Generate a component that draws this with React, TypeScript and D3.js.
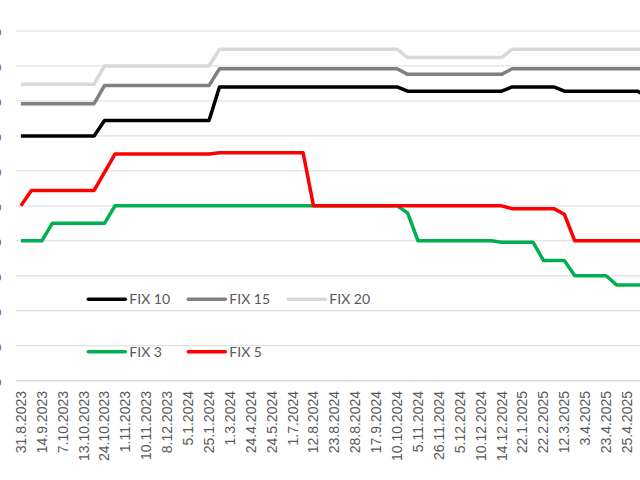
import React from "react";
import * as d3 from "d3";

const dates: string[] = [
  "31.8.2023", "", "14.9.2023", "", "7.10.2023", "", "13.10.2023", "", "24.10.2023", "",
  "1.11.2023", "", "10.11.2023", "", "8.12.2023", "", "5.1.2024", "", "25.1.2024", "",
  "1.3.2024", "", "24.4.2024", "", "24.5.2024", "", "1.7.2024", "", "12.8.2024", "",
  "23.8.2024", "", "28.8.2024", "", "17.9.2024", "", "10.10.2024", "", "5.11.2024", "",
  "26.11.2024", "", "5.12.2024", "", "10.12.2024", "", "14.12.2024", "", "22.1.2025", "",
  "22.2.2025", "", "12.3.2025", "", "3.4.2025", "", "23.4.2025", "", "25.4.2025", "", "",
];

const fix3: number[] = [
  3.5, 3.5, 3.5, 3.625, 3.625, 3.625, 3.625, 3.625, 3.625, 3.75,
  3.75, 3.75, 3.75, 3.75, 3.75, 3.75, 3.75, 3.75, 3.75, 3.75,
  3.75, 3.75, 3.75, 3.75, 3.75, 3.75, 3.75, 3.75, 3.75, 3.75,
  3.75, 3.75, 3.75, 3.75, 3.75, 3.75, 3.75, 3.7, 3.5, 3.5,
  3.5, 3.5, 3.5, 3.5, 3.5, 3.5, 3.49, 3.49, 3.49, 3.49,
  3.36, 3.36, 3.36, 3.25, 3.25, 3.25, 3.25, 3.185, 3.185, 3.185, 3.185,
];

const fix5: number[] = [
  3.75, 3.86, 3.86, 3.86, 3.86, 3.86, 3.86, 3.86, 3.99, 4.12,
  4.12, 4.12, 4.12, 4.12, 4.12, 4.12, 4.12, 4.12, 4.12, 4.13,
  4.13, 4.13, 4.13, 4.13, 4.13, 4.13, 4.13, 4.13, 3.75, 3.75,
  3.75, 3.75, 3.75, 3.75, 3.75, 3.75, 3.75, 3.75, 3.75, 3.75,
  3.75, 3.75, 3.75, 3.75, 3.75, 3.75, 3.75, 3.73, 3.73, 3.73,
  3.73, 3.73, 3.69, 3.5, 3.5, 3.5, 3.5, 3.5, 3.5, 3.5, 3.5,
];

const fix10: number[] = [
  4.25, 4.25, 4.25, 4.25, 4.25, 4.25, 4.25, 4.25, 4.36, 4.36,
  4.36, 4.36, 4.36, 4.36, 4.36, 4.36, 4.36, 4.36, 4.36, 4.6,
  4.6, 4.6, 4.6, 4.6, 4.6, 4.6, 4.6, 4.6, 4.6, 4.6,
  4.6, 4.6, 4.6, 4.6, 4.6, 4.6, 4.6, 4.57, 4.57, 4.57,
  4.57, 4.57, 4.57, 4.57, 4.57, 4.57, 4.57, 4.6, 4.6, 4.6,
  4.6, 4.6, 4.57, 4.57, 4.57, 4.57, 4.57, 4.57, 4.57, 4.57, 4.53,
];

const fix15: number[] = [
  4.48, 4.48, 4.48, 4.48, 4.48, 4.48, 4.48, 4.48, 4.61, 4.61,
  4.61, 4.61, 4.61, 4.61, 4.61, 4.61, 4.61, 4.61, 4.61, 4.73,
  4.73, 4.73, 4.73, 4.73, 4.73, 4.73, 4.73, 4.73, 4.73, 4.73,
  4.73, 4.73, 4.73, 4.73, 4.73, 4.73, 4.73, 4.69, 4.69, 4.69,
  4.69, 4.69, 4.69, 4.69, 4.69, 4.69, 4.69, 4.73, 4.73, 4.73,
  4.73, 4.73, 4.73, 4.73, 4.73, 4.73, 4.73, 4.73, 4.73, 4.73, 4.73,
];

const fix20: number[] = [
  4.62, 4.62, 4.62, 4.62, 4.62, 4.62, 4.62, 4.62, 4.75, 4.75,
  4.75, 4.75, 4.75, 4.75, 4.75, 4.75, 4.75, 4.75, 4.75, 4.87,
  4.87, 4.87, 4.87, 4.87, 4.87, 4.87, 4.87, 4.87, 4.87, 4.87,
  4.87, 4.87, 4.87, 4.87, 4.87, 4.87, 4.87, 4.81, 4.81, 4.81,
  4.81, 4.81, 4.81, 4.81, 4.81, 4.81, 4.81, 4.87, 4.87, 4.87,
  4.87, 4.87, 4.87, 4.87, 4.87, 4.87, 4.87, 4.87, 4.87, 4.87, 4.87,
];

const yTicks: number[] = [2.5, 2.75, 3.0, 3.25, 3.5, 3.75, 4.0, 4.25, 4.5, 4.75, 5.0];

const seriesNames: string[] = ["FIX 20", "FIX 15", "FIX 10", "FIX 3", "FIX 5"];
const seriesColors: string[] = ["#d9d9d9", "#808080", "#000000", "#00b050", "#ff0000"];
const seriesValues: number[][] = [fix20, fix15, fix10, fix3, fix5];

// legend layout: rows of series names
const legendRows: string[][] = [["FIX 10", "FIX 15", "FIX 20"], ["FIX 3", "FIX 5"]];

export default function App() {
  const W = 640;
  const H = 480;
  const plotLeft = 15.7;
  const step = 10.45;
  const plotTop = 31;
  const plotBottom = 380.7;

  const idx = dates.map((_, i) => i);
  const x = d3
    .scaleBand<number>()
    .domain(idx)
    .range([plotLeft, plotLeft + step * dates.length]);
  const xc = (i: number) => (x(i) as number) + x.bandwidth() / 2;
  const y = d3.scaleLinear().domain([2.5, 5.0]).range([plotBottom, plotTop]);

  const line = d3
    .line<number>()
    .x((_, i) => xc(i))
    .y((d) => y(d));

  const fmt = (v: number) => d3.format(".2f")(v).replace(".", ",") + "%";

  const legendX = [88.3, 188.3, 288.3];
  const legendY = [299.3, 351.7];

  return (
    <svg
      width={W}
      height={H}
      style={{ position: "absolute", left: 0, top: 0, background: "#fff" }}
    >
      <rect x={0} y={0} width={W} height={H} fill="#ffffff" />
      {yTicks.map((t) => (
        <line
          key={"g" + t}
          x1={plotLeft}
          x2={W + 20}
          y1={y(t)}
          y2={y(t)}
          stroke="#d9d9d9"
          strokeWidth={t === 2.5 ? 1.5 : 1}
        />
      ))}
      {yTicks.map((t) => (
        <text
          key={"yl" + t}
          x={1.5}
          y={y(t)}
          dy="0.35em"
          textAnchor="end"
          fontFamily="Liberation Sans, Arial, sans-serif"
          fontSize={14}
          fill="#595959"
        >
          {fmt(t)}
        </text>
      ))}
      {dates.map((d, i) =>
        d ? (
          <text
            key={"xl" + i}
            transform={`translate(${xc(i)},391) rotate(-90)`}
            dy="0.35em"
            textAnchor="end"
            fontFamily="Liberation Sans, Arial, sans-serif"
            fontSize={14}
            fill="#595959"
          >
            {d}
          </text>
        ) : null
      )}
      {seriesValues.map((vals, si) => (
        <path
          key={seriesNames[si]}
          d={line(vals) as string}
          fill="none"
          stroke={seriesColors[si]}
          strokeWidth={3.5}
          strokeLinejoin="round"
          strokeLinecap="butt"
        />
      ))}
      {legendRows.map((row, ri) =>
        row.map((name, ci) => {
          const si = seriesNames.indexOf(name);
          return (
            <g key={"lg" + name}>
              <line
                x1={legendX[ci]}
                x2={legendX[ci] + 37}
                y1={legendY[ri]}
                y2={legendY[ri]}
                stroke={seriesColors[si]}
                strokeWidth={3.5}
                strokeLinecap="round"
              />
              <text
                x={legendX[ci] + 41}
                y={legendY[ri]}
                dy="0.36em"
                fontFamily="Lato, Calibri, sans-serif"
                fontSize={14}
                fill="#595959"
              >
                {name}
              </text>
            </g>
          );
        })
      )}
    </svg>
  );
}
